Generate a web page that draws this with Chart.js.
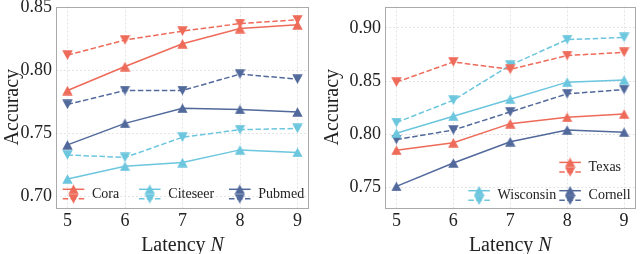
<!DOCTYPE html>
<html>
<head>
<meta charset="utf-8">
<script src="https://cdn.jsdelivr.net/npm/chart.js@4/dist/chart.umd.min.js"></script>
<style>
  html, body { margin: 0; padding: 0; background: #fff; }
  #wrap { position: relative; width: 640px; height: 254px; overflow: hidden; }
  #c1 { position: absolute; left: 0; top: 0; }
  #c2 { position: absolute; left: 320px; top: 0; }
</style>
</head>
<body>
<div id="wrap">
  <canvas id="c1" width="320" height="254"></canvas>
  <canvas id="c2" width="322" height="254"></canvas>
</div>
<script>
// ---------- data ----------
const latency = [5, 6, 7, 8, 9];
const xTicks = [5, 6, 7, 8, 9];
const yTicksLeft = [0.70, 0.75, 0.80, 0.85];
const yTicksRight = [0.75, 0.80, 0.85, 0.90];

const coraSolid       = [0.784, 0.803, 0.821, 0.833, 0.836];
const coraDashed      = [0.812, 0.824, 0.831, 0.837, 0.840];
const citeseerSolid   = [0.714, 0.724, 0.727, 0.737, 0.735];
const citeseerDashed  = [0.733, 0.731, 0.747, 0.753, 0.754];
const pubmedSolid     = [0.741, 0.758, 0.770, 0.769, 0.767];
const pubmedDashed    = [0.773, 0.784, 0.784, 0.797, 0.793];

const texasSolid      = [0.785, 0.792, 0.810, 0.816, 0.819];
const texasDashed     = [0.849, 0.868, 0.861, 0.874, 0.877];
const wisconsinSolid  = [0.801, 0.817, 0.833, 0.849, 0.851];
const wisconsinDashed = [0.811, 0.832, 0.865, 0.889, 0.891];
const cornellSolid    = [0.751, 0.773, 0.793, 0.804, 0.802];
const cornellDashed   = [0.795, 0.804, 0.821, 0.838, 0.842];

const seriesNamesLeft  = ['Cora', 'Citeseer', 'Pubmed'];
const seriesNamesRight = ['Texas', 'Wisconsin', 'Cornell'];

// ---------- style ----------
const RED = '#EE6A59';
const CYAN = '#6BC6DE';
const NAVY = '#51699B';
const FONT = '"Liberation Serif", "Times New Roman", serif';
const DASH = [5.5, 2.5];

function triImg(color, down) {
  const w = 11, h = 10;
  const c = document.createElement('canvas');
  c.width = w; c.height = h;
  const g = c.getContext('2d');
  g.fillStyle = color;
  g.beginPath();
  if (!down) {
    g.moveTo(w / 2, 0.3); g.lineTo(w - 0.3, h - 0.3); g.lineTo(0.3, h - 0.3);
  } else {
    g.moveTo(0.3, 0.3); g.lineTo(w - 0.3, 0.3); g.lineTo(w / 2, h - 0.3);
  }
  g.closePath(); g.fill();
  return c;
}

const markers = {};
[RED, CYAN, NAVY].forEach(col => {
  markers[col] = { up: triImg(col, false), down: triImg(col, true) };
});

function ds(label, vals, color, dashed) {
  return {
    label,
    data: latency.map((x, i) => ({ x, y: vals[i] })),
    borderColor: color,
    backgroundColor: color,
    borderWidth: 1.5,
    borderDash: dashed ? DASH : [],
    pointStyle: dashed ? markers[color].down : markers[color].up,
    pointRadius: 5,
    pointHoverRadius: 5,
    tension: 0,
    fill: false,
  };
}

function drawHandle(ctx, x, y, color) {
  const len = 21.6;
  ctx.save();
  ctx.strokeStyle = color; ctx.lineWidth = 1.5;
  ctx.setLineDash([]);
  ctx.beginPath(); ctx.moveTo(x, y); ctx.lineTo(x + len, y); ctx.stroke();
  ctx.setLineDash(DASH);
  ctx.beginPath(); ctx.moveTo(x, y + 9.5); ctx.lineTo(x + len, y + 9.5); ctx.stroke();
  ctx.setLineDash([]);
  const up = markers[color].up, dn = markers[color].down;
  ctx.drawImage(up, x + len / 2 - up.width / 2, y - up.height / 2);
  ctx.drawImage(dn, x + len / 2 - dn.width / 2, y + 9.5 - dn.height / 2);
  ctx.restore();
  return len;
}

const deco = {
  id: 'deco',
  beforeDatasetsDraw(chart) {
    const { ctx, chartArea: a } = chart;
    ctx.save();
    ctx.strokeStyle = '#aaaaaa';
    ctx.lineWidth = 1;
    ctx.strokeRect(Math.round(a.left) + 0.5, Math.round(a.top) + 0.5,
                   Math.round(a.right - a.left) - 1, Math.round(a.bottom - a.top) - 1);
    ctx.restore();
  },
  afterDraw(chart, args, opts) {
    const { ctx, chartArea: a } = chart;
    ctx.save();
    // x title with italic N
    ctx.fillStyle = '#222';
    ctx.textBaseline = 'alphabetic';
    const f1 = '20px ' + FONT, f2 = 'italic 20px ' + FONT;
    ctx.font = f1; const w1 = ctx.measureText('Latency ').width;
    ctx.font = f2; const w2 = ctx.measureText('N').width;
    const cx = (a.left + a.right) / 2 + (opts.titleShift || 0);
    let sx = cx - (w1 + w2) / 2;
    ctx.font = f1; ctx.fillText('Latency ', sx, 250.5);
    ctx.font = f2; ctx.fillText('N', sx + w1, 250.5);

    // legend
    ctx.font = '14px ' + FONT;
    ctx.textBaseline = 'middle';
    (opts.legend || []).forEach(it => {
      const x = a.left + it.dx, y = a.bottom + it.dy;
      const len = drawHandle(ctx, x, y, it.color);
      ctx.fillStyle = '#222';
      ctx.fillText(it.label, x + len + 7.7, y + 5);
    });
    ctx.restore();
  }
};

function makeOptions(yMin, yMax, yTicks, yWidth, pad, legend, titleShift) {
  return {
    responsive: false,
    animation: false,
    layout: { padding: pad },
    plugins: {
      legend: { display: false },
      tooltip: { enabled: false },
      deco: { legend, titleShift },
    },
    scales: {
      x: {
        type: 'linear', min: 4.8, max: 9.2,
        afterBuildTicks: s => { s.ticks = xTicks.map(v => ({ value: v })); },
        afterFit: s => { s.height = 254 - (254 - pad.bottom) + pad.bottom ? 254 - pad.areaBottom : 46; s.paddingLeft = 0; s.paddingRight = 0; },
        ticks: { font: { family: FONT, size: 18 }, color: '#222', padding: 2, maxRotation: 0,
                 callback: v => String(v) },
        grid: { color: '#dddddd', lineWidth: 0.8, drawTicks: false, borderDash: [2, 2] },
        border: { display: false, dash: [2, 2] },
      },
      y: {
        min: yMin, max: yMax,
        afterBuildTicks: s => { s.ticks = yTicks.map(v => ({ value: v })); },
        afterFit: s => { s.width = yWidth; s.paddingTop = 0; s.paddingBottom = 0; },
        ticks: { font: { family: FONT, size: 18 }, color: '#222', padding: 4,
                 callback: v => v.toFixed(2) },
        grid: { color: '#dddddd', lineWidth: 0.8, drawTicks: false },
        border: { display: false, dash: [2, 2] },
        title: { display: true, text: 'Accuracy', font: { family: FONT, size: 20 }, color: '#222',
                 padding: { top: 1, bottom: 0 } },
      }
    }
  };
}

// left chart
const padL = { top: 6, right: 11, left: 0, bottom: 0, areaBottom: 208 };
new Chart(document.getElementById('c1'), {
  type: 'line',
  data: {
    datasets: [
      ds(seriesNamesLeft[0], coraSolid, RED, false),
      ds(seriesNamesLeft[0], coraDashed, RED, true),
      ds(seriesNamesLeft[1], citeseerSolid, CYAN, false),
      ds(seriesNamesLeft[1], citeseerDashed, CYAN, true),
      ds(seriesNamesLeft[2], pubmedSolid, NAVY, false),
      ds(seriesNamesLeft[2], pubmedDashed, NAVY, true),
    ]
  },
  options: makeOptions(0.691, 0.8505, yTicksLeft, 56, padL, [
    { label: seriesNamesLeft[0], color: RED, dx: 6.7, dy: -18.7 },
    { label: seriesNamesLeft[1], color: CYAN, dx: 83, dy: -18.7 },
    { label: seriesNamesLeft[2], color: NAVY, dx: 173, dy: -18.7 },
  ], 0),
  plugins: [deco]
});

// right chart
const padR = { top: 5, right: 1, left: 0, bottom: 0, areaBottom: 207 };
new Chart(document.getElementById('c2'), {
  type: 'line',
  data: {
    datasets: [
      ds(seriesNamesRight[0], texasSolid, RED, false),
      ds(seriesNamesRight[0], texasDashed, RED, true),
      ds(seriesNamesRight[1], wisconsinSolid, CYAN, false),
      ds(seriesNamesRight[1], wisconsinDashed, CYAN, true),
      ds(seriesNamesRight[2], cornellSolid, NAVY, false),
      ds(seriesNamesRight[2], cornellDashed, NAVY, true),
    ]
  },
  options: makeOptions(0.7307, 0.9201, yTicksRight, 65, padR, [
    { label: seriesNamesRight[0], color: RED, dx: 174.3, dy: -45.6 },
    { label: seriesNamesRight[1], color: CYAN, dx: 83.3, dy: -17.3 },
    { label: seriesNamesRight[2], color: NAVY, dx: 174.3, dy: -17.3 },
  ], 0),
  plugins: [deco]
});
</script>
</body>
</html>
